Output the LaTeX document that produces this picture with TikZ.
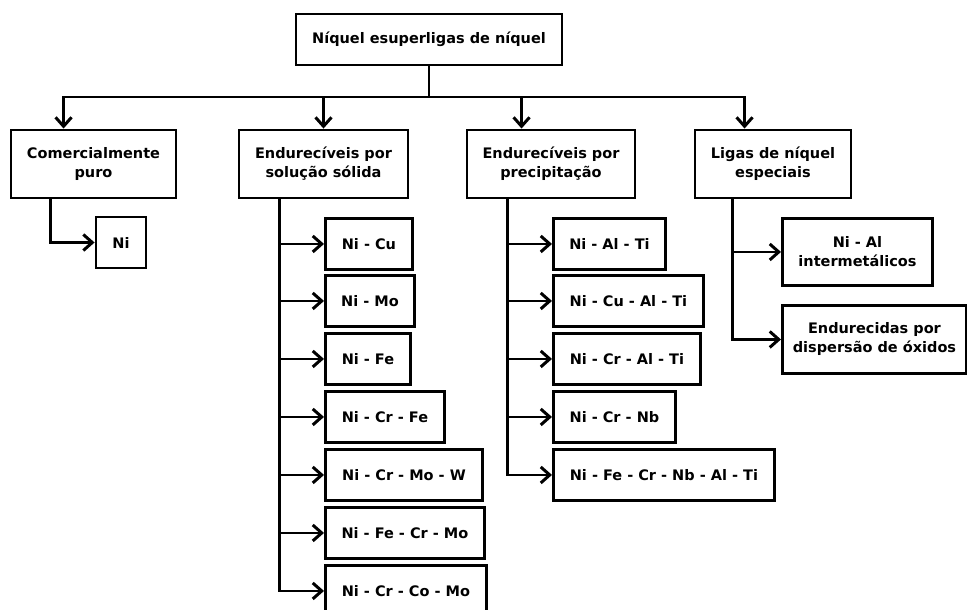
\documentclass[tikz,border=0pt]{standalone}
\usepackage{fontspec}
\setmainfont{DejaVu Sans}
\usetikzlibrary{arrows.meta}
\begin{document}
\begin{tikzpicture}[x=1pt,y=-1pt,
  box/.style={draw,line width=2.9pt,align=center,inner sep=0pt,font=\bfseries\fontsize{14.5}{19}\selectfont},
  link/.style={line width=2.8pt,line join=miter},
  arr/.style={link,-{Straight Barb[length=9pt,width=16pt,line width=3pt]}}]
\useasboundingbox (0,0) rectangle (967,610);
% main
\node[box,minimum width=266pt,minimum height=51pt] (top) at (429,39.5) {Níquel esuperligas de níquel};
\node[box,minimum width=165pt,minimum height=68pt] (b1) at (93.5,164) {Comercialmente\\puro};
\node[box,minimum width=169pt,minimum height=68pt] (b2) at (323.5,164) {Endurecíveis por\\solução sólida};
\node[box,minimum width=168pt,minimum height=68pt] (b3) at (551,164) {Endurecíveis por\\precipitação};
\node[box,minimum width=156pt,minimum height=68pt] (b4) at (773,164) {Ligas de níquel\\especiais};
% b1 child
\node[box,minimum width=50pt,minimum height=51pt] (ni) at (121,242.5) {Ni};
% b2 children
\node[box,anchor=north west,minimum width=87pt,minimum height=51pt] (s1) at (324,217) {Ni - Cu};
\node[box,anchor=north west,minimum width=89pt,minimum height=51pt] (s2) at (324,274) {Ni - Mo};
\node[box,anchor=north west,minimum width=85pt,minimum height=51pt] (s3) at (324,332) {Ni - Fe};
\node[box,anchor=north west,minimum width=119pt,minimum height=51pt] (s4) at (324,390) {Ni - Cr - Fe};
\node[box,anchor=north west,minimum width=157pt,minimum height=51pt] (s5) at (324,448) {Ni - Cr - Mo - W};
\node[box,anchor=north west,minimum width=159pt,minimum height=51pt] (s6) at (324,506) {Ni - Fe - Cr - Mo};
\node[box,anchor=north west,minimum width=161pt,minimum height=61pt] (s7) at (324,564) {Ni - Cr - Co - Mo\rule[-10pt]{0pt}{0pt}};
% b3 children
\node[box,anchor=north west,minimum width=112pt,minimum height=51pt] (p1) at (552,217) {Ni - Al - Ti};
\node[box,anchor=north west,minimum width=150pt,minimum height=51pt] (p2) at (552,274) {Ni - Cu - Al - Ti};
\node[box,anchor=north west,minimum width=147pt,minimum height=51pt] (p3) at (552,332) {Ni - Cr - Al - Ti};
\node[box,anchor=north west,minimum width=122pt,minimum height=51pt] (p4) at (552,390) {Ni - Cr - Nb};
\node[box,anchor=north west,minimum width=221pt,minimum height=51pt] (p5) at (552,448) {Ni - Fe - Cr - Nb - Al - Ti};
% b4 children
\node[box,anchor=north west,minimum width=150pt,minimum height=67pt] (e1) at (781,217) {Ni - Al\\intermetálicos};
\node[box,anchor=north west,minimum width=184pt,minimum height=68pt] (e2) at (781,304) {Endurecidas por\\dispersão de óxidos};
% connectors
\coordinate (j) at (429,97);
\draw[link] (top) -- (j);
\draw[arr] (j) -| ([xshift=54pt]b1.north west);
\draw[arr] (j) -| (b2.north);
\draw[arr] (j) -| ([xshift=56pt]b3.north west);
\draw[arr] (j) -| ([xshift=51pt]b4.north west);
\draw[arr] ([xshift=41pt]b1.south west) |- (ni.west);
\foreach \k in {s1,s2,s3,s4,s5,s6}
  \draw[arr] ([xshift=42pt]b2.south west) |- (\k.west);
\draw[arr] ([xshift=42pt]b2.south west) |- ([yshift=5pt]s7.west);
\foreach \k in {p1,p2,p3,p4,p5}
  \draw[arr] ([xshift=42pt]b3.south west) |- (\k.west);
\foreach \k in {e1,e2}
  \draw[arr] ([xshift=39pt]b4.south west) |- (\k.west);
\end{tikzpicture}
\end{document}
